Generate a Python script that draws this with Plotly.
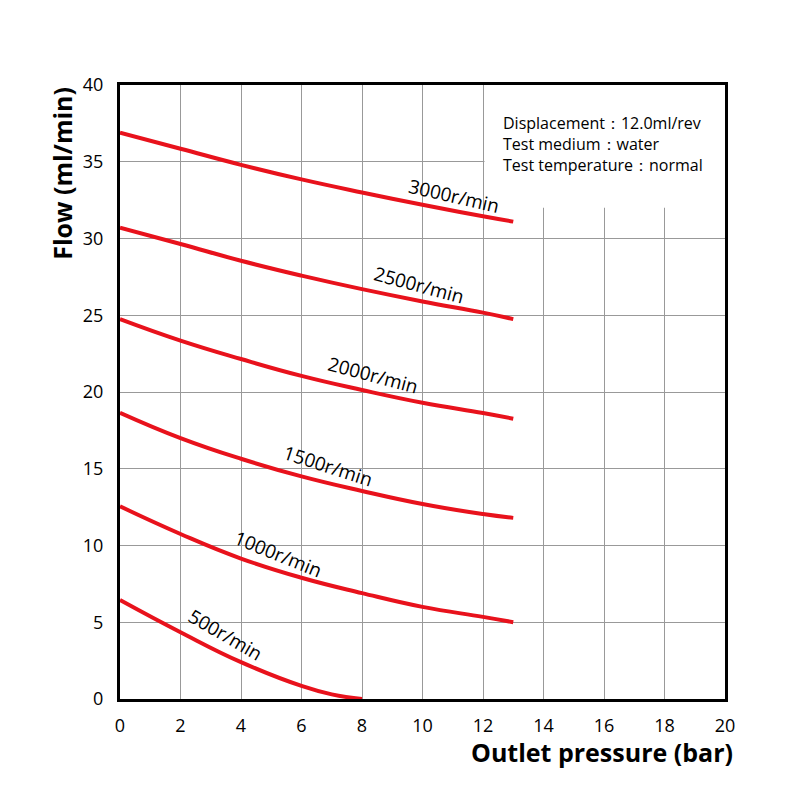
import plotly.graph_objects as go

pressure = [0, 2, 4, 6, 8, 10, 12, 13]
flow_3000 = [36.9, 35.85, 34.8, 33.85, 33.0, 32.2, 31.45, 31.1]
flow_2500 = [30.7, 29.64, 28.55, 27.58, 26.7, 25.9, 25.17, 24.75]
flow_2000 = [24.75, 23.35, 22.15, 21.05, 20.13, 19.3, 18.63, 18.26]
flow_1500 = [18.65, 17.0, 15.65, 14.5, 13.55, 12.7, 12.05, 11.8]
flow_1000 = [12.55, 10.75, 9.15, 7.9, 6.9, 6.0, 5.35, 5.0]
pressure_500 = [0, 2, 4, 6, 7, 8]
flow_500 = [6.45, 4.35, 2.4, 0.85, 0.3, 0.0]

series = [
    ("3000r/min", pressure, flow_3000),
    ("2500r/min", pressure, flow_2500),
    ("2000r/min", pressure, flow_2000),
    ("1500r/min", pressure, flow_1500),
    ("1000r/min", pressure, flow_1000),
    ("500r/min", pressure_500, flow_500),
]

# label positions (x, y, angle)
label_pos = [
    (11.04, 32.8, 13),
    (9.88, 27.0, 15),
    (8.36, 21.1, 15),
    (6.88, 15.2, 18),
    (5.22, 9.45, 22),
    (3.5, 4.2, 30),
]

fig = go.Figure()
for name, xs, ys in series:
    fig.add_trace(go.Scatter(x=xs, y=ys, mode="lines", name=name,
                             line=dict(color="#e8121c", width=4, shape="spline", smoothing=1.3),
                             showlegend=False))

font_family = "Open Sans, Noto Sans, sans-serif"
for (name, _, _), (lx, ly, ang) in zip(series, label_pos):
    fig.add_annotation(x=lx, y=ly, text=name, showarrow=False, textangle=ang,
                       font=dict(size=19, color="black", family=font_family))

# white box covering grid behind the info text
fig.add_shape(type="rect", xref="x", yref="y", x0=12.05, x1=20, y0=32, y1=40,
              fillcolor="white", line=dict(width=0), layer="between")

fig.add_annotation(xref="paper", yref="paper", x=0.629, y=0.96, xanchor="left", yanchor="top",
                   align="left", showarrow=False,
                   text="Displacement：12.0ml/rev<br>Test medium：water<br>Test temperature：normal",
                   font=dict(size=16, color="black", family=font_family))

fig.add_annotation(xref="paper", yref="paper", x=1.017, y=-0.055, xanchor="right", yanchor="top",
                   showarrow=False, text="<b>Outlet pressure (bar)</b>",
                   font=dict(size=25, color="black", family=font_family))
fig.add_annotation(xref="paper", yref="paper", x=-0.097, y=1.0, xanchor="center", yanchor="top",
                   showarrow=False, text="<b>Flow (ml/min)</b>", textangle=-90,
                   font=dict(size=25, color="black", family=font_family))

fig.update_xaxes(range=[0, 20], dtick=2, showgrid=True, gridcolor="#999999", gridwidth=1,
                 showline=True, linecolor="black", linewidth=3, mirror=True,
                 ticks="", zeroline=False, ticklabelstandoff=8,
                 tickfont=dict(size=18, color="black", family=font_family))
fig.update_yaxes(range=[0, 40], dtick=5, showgrid=True, gridcolor="#999999", gridwidth=1,
                 showline=True, linecolor="black", linewidth=3, mirror=True,
                 ticks="", zeroline=False, ticklabelstandoff=10,
                 tickfont=dict(size=18, color="black", family=font_family))

fig.update_layout(width=800, height=800, plot_bgcolor="white", paper_bgcolor="white",
                  margin=dict(l=120, r=75, t=85, b=101))

fig.write_html("out.html")
